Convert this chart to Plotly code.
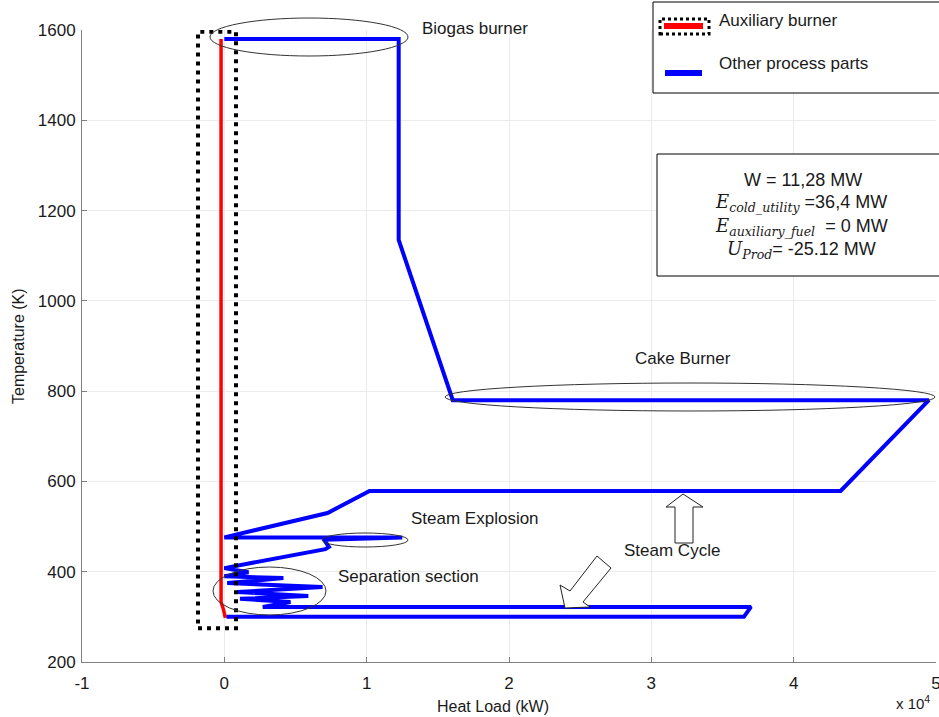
import plotly.graph_objects as go

# ---------------- data ----------------
# "Other process parts" curve: heat load (kW) vs temperature (K)
other_heat = [0, 12250, 12250, 16050, 49500, 43300, 10200, 7250, 0, 12500, 7000, 7350, 7100, 0,
              1700, 0, 4150, 200, 6900, 900, 5900, 1100, 4650, 2700, 37000, 36500, 150]
other_temp = [1580, 1580, 1135, 780, 780, 579, 579, 530, 476, 476, 471, 455, 450, 408,
              399, 390, 386, 375, 366, 355, 346, 340, 333, 322, 322, 300, 300]

# "Auxiliary burner" curve
aux_heat = [-230, -230, -50, 70]
aux_temp = [1580, 333, 315, 298]

# dotted frame around the auxiliary burner
aux_box_heat = [-1850, 820]
aux_box_temp = [275, 1596]

x_tickvals = [-10000, 0, 10000, 20000, 30000, 40000, 50000]
x_ticktext = ["-1", "0", "1", "2", "3", "4", "5"]
y_tickvals = [200, 400, 600, 800, 1000, 1200, 1400, 1600]

labels = ["Biogas burner", "Cake Burner", "Steam Explosion", "Separation section", "Steam Cycle"]

# ---------------- layout helpers (pixel -> paper) ----------------
W, H = 939, 717
ML, MR, MT, MB = 82, 3, 30, 55
PW, PH = W - ML - MR, H - MT - MB


def px(x):
    return (x - ML) / PW


def py(y):
    return (H - MB - y) / PH


FONT = "Liberation Sans, Arial, sans-serif"
TXT = "#1a1a1a"

fig = go.Figure()
fig.add_trace(go.Scatter(x=aux_heat, y=aux_temp, mode="lines",
                         line=dict(color="#ff0000", width=3.5), showlegend=False,
                         name="Auxiliary burner"))
fig.add_trace(go.Scatter(x=other_heat, y=other_temp, mode="lines",
                         line=dict(color="#0000ff", width=4), showlegend=False,
                         name="Other process parts"))

shapes = []
# dotted frame
shapes.append(dict(type="rect", xref="x", yref="y",
                   x0=aux_box_heat[0], x1=aux_box_heat[1], y0=aux_box_temp[0], y1=aux_box_temp[1],
                   line=dict(color="black", width=4, dash="4px,5px")))


def ellipse(x0, y0, x1, y1):
    return dict(type="circle", xref="paper", yref="paper",
                x0=px(x0), x1=px(x1), y0=py(y1), y1=py(y0),
                line=dict(color="#333333", width=1))


shapes += [ellipse(210, 18, 408, 56),
           ellipse(445, 383, 935, 411),
           ellipse(322, 533, 408, 547),
           ellipse(213, 567, 326, 615)]


def poly(points):
    d = "M " + " L ".join(f"{px(a):.5f},{py(b):.5f}" for a, b in points) + " Z"
    return dict(type="path", xref="paper", yref="paper", path=d,
                fillcolor="white", line=dict(color="#222222", width=1))


shapes.append(poly([(683, 494), (703, 507), (693, 507), (693, 543), (675, 543), (675, 507), (666, 507)]))
shapes.append(poly([(597, 556), (611, 568), (583, 602), (590, 607), (565, 608), (560, 585), (570, 591)]))

# legend box
shapes.append(dict(type="rect", xref="paper", yref="paper",
                   x0=px(653), x1=px(950), y0=py(93), y1=py(2),
                   line=dict(color="black", width=1), fillcolor="white"))
shapes.append(dict(type="line", xref="paper", yref="paper",
                   x0=px(664), x1=px(703), y0=py(26), y1=py(26),
                   line=dict(color="#ff0000", width=6)))
shapes.append(dict(type="rect", xref="paper", yref="paper",
                   x0=px(660), x1=px(709), y0=py(34), y1=py(19),
                   line=dict(color="black", width=3, dash="3px,3px")))
shapes.append(dict(type="line", xref="paper", yref="paper",
                   x0=px(665), x1=px(702), y0=py(73), y1=py(73),
                   line=dict(color="#0000ff", width=6)))
# info box
shapes.append(dict(type="rect", xref="paper", yref="paper",
                   x0=px(657), x1=px(950), y0=py(276), y1=py(154),
                   line=dict(color="black", width=1), fillcolor="white"))

ann = []


def text(t, x, y, size=17, xanchor="center", **kw):
    ann.append(dict(text=t, xref="paper", yref="paper", x=px(x), y=py(y),
                    xanchor=xanchor, yanchor="middle", showarrow=False,
                    font=dict(family=FONT, size=size, color=TXT), **kw))


text(labels[0], 475, 29)
text(labels[1], 683, 358)
text(labels[2], 475, 518)
text(labels[3], 408, 576)
text(labels[4], 672, 550)

text("Auxiliary burner", 717, 21, size=17, xanchor="left")
text("Other process parts", 717, 64, size=17, xanchor="left")

SER = "<span style=\"font-family:'DejaVu Serif'\">"
text("W = 11,28 MW", 803, 180, size=18)
text(SER + "<i>E</i><sub><i>cold_utility</i></sub></span> =36,4 MW", 801, 203, size=18)
text(SER + "<i>E</i><sub><i>auxiliary_fuel</i></sub></span>  = 0 MW", 801, 227, size=18)
text(SER + "<i>U</i><sub><i>Prod</i></sub></span>= -25.12 MW", 801, 250, size=18)

text("Heat Load (kW)", 493, 706, size=16)
text("Temperature (K)", 18, 346, size=16, textangle=-90)
text("x 10<sup>4</sup>", 913, 703, size=15)

fig.update_layout(
    width=W, height=H,
    margin=dict(l=ML, r=MR, t=MT, b=MB, autoexpand=False),
    paper_bgcolor="white", plot_bgcolor="white",
    shapes=shapes, annotations=ann,
    font=dict(family=FONT, size=17, color=TXT),
)
fig.update_xaxes(range=[-10000, 50000], tickvals=x_tickvals, ticktext=x_ticktext,
                 automargin=False, ticklabeloverflow="allow",
                 showgrid=True, gridcolor="#ebebeb", gridwidth=1, zeroline=False,
                 showline=True, linecolor="#7f7f7f", linewidth=1,
                 ticks="inside", ticklen=5, tickcolor="#7f7f7f",
                 tickfont=dict(size=17, color=TXT), ticklabelstandoff=6)
fig.update_yaxes(range=[200, 1600], tickvals=y_tickvals,
                 automargin=False,
                 showgrid=True, gridcolor="#ebebeb", gridwidth=1, zeroline=False,
                 showline=True, linecolor="#7f7f7f", linewidth=1,
                 ticks="inside", ticklen=5, tickcolor="#7f7f7f",
                 tickfont=dict(size=17, color=TXT), ticklabelstandoff=2)

fig.write_html("out.html", config={"displayModeBar": False},
               post_script="document.body.style.margin='0';document.body.style.padding='0';"
                           "document.documentElement.style.overflow='hidden';")
